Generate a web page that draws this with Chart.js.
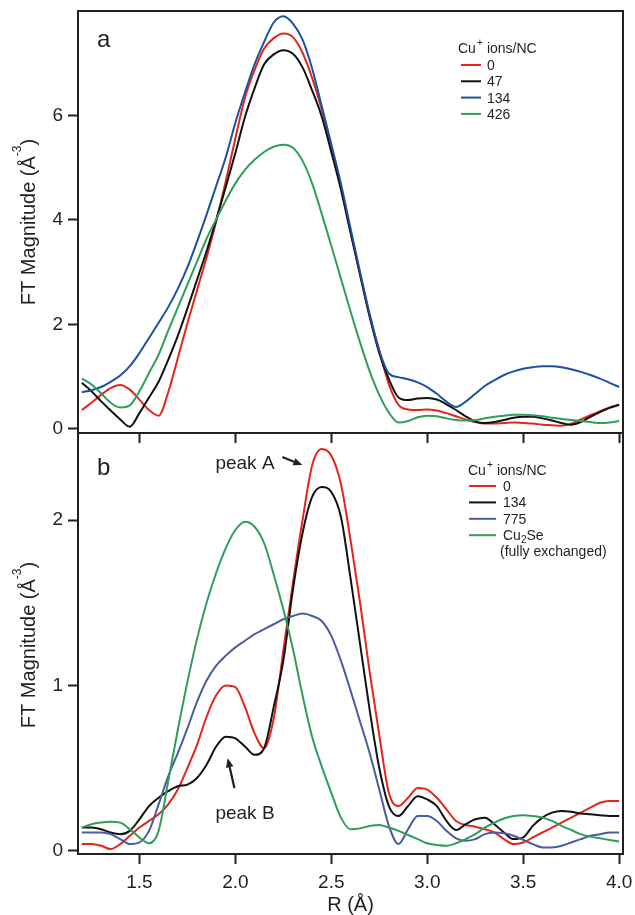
<!DOCTYPE html>
<html>
<head>
<meta charset="utf-8">
<script src="https://cdn.jsdelivr.net/npm/chart.js@4.4.1/dist/chart.umd.min.js"></script>
<style>
  html, body { margin: 0; padding: 0; background: #fff; overflow: hidden; }
  #wrap { position: relative; width: 635px; height: 915px; overflow: hidden; }
  #topChart { position: absolute; left: 0; top: 0; }
  #botChart { position: absolute; left: 0; top: 425px; }
</style>
</head>
<body>
<div id="wrap">
  <canvas id="topChart" width="635" height="450"></canvas>
  <canvas id="botChart" width="635" height="492"></canvas>
</div>
<script>
// R grid (Å)
const rAxis = [1.20, 1.25, 1.30, 1.35, 1.40, 1.45, 1.50, 1.55, 1.60, 1.65,
  1.70, 1.75, 1.80, 1.85, 1.90, 1.95, 2.00, 2.05, 2.10, 2.15,
  2.20, 2.25, 2.30, 2.35, 2.40, 2.45, 2.50, 2.55, 2.60, 2.65,
  2.70, 2.75, 2.80, 2.85, 2.90, 2.95, 3.00, 3.05, 3.10, 3.15,
  3.20, 3.25, 3.30, 3.35, 3.40, 3.45, 3.50, 3.55, 3.60, 3.65,
  3.70, 3.75, 3.80, 3.85, 3.90, 3.95, 4.00];

// panel a: Cu+ ions/NC = 0, 47, 134, 426
const topCu0 = [0.36, 0.50, 0.65, 0.78, 0.84, 0.75, 0.56, 0.36, 0.25, 0.70,
  1.35, 2.02, 2.65, 3.28, 3.97, 4.74, 5.56, 6.34, 6.87, 7.28,
  7.48, 7.57, 7.5, 7.2, 6.72, 6.12, 5.4, 4.63, 3.78, 2.95,
  2.15, 1.5, 0.85, 0.46, 0.37, 0.36, 0.37, 0.35, 0.30, 0.24,
  0.18, 0.13, 0.10, 0.10, 0.11, 0.12, 0.11, 0.10, 0.08, 0.07,
  0.06, 0.10, 0.18, 0.26, 0.34, 0.41, 0.46];
const topCu47 = [0.88, 0.72, 0.53, 0.35, 0.18, 0.04, 0.30, 0.60, 0.90, 1.32,
  1.78, 2.3, 2.85, 3.4, 4.0, 4.63, 5.28, 5.97, 6.52, 6.98,
  7.17, 7.25, 7.18, 6.92, 6.48, 5.98, 5.3, 4.58, 3.76, 2.95,
  2.15, 1.45, 0.95, 0.60, 0.55, 0.58, 0.59, 0.56, 0.47, 0.36,
  0.24, 0.14, 0.11, 0.13, 0.17, 0.21, 0.23, 0.23, 0.20, 0.16,
  0.11, 0.08, 0.13, 0.23, 0.32, 0.40, 0.46];
const topCu134 = [0.70, 0.74, 0.80, 0.90, 1.02, 1.2, 1.45, 1.74, 2.03, 2.33,
  2.68, 3.09, 3.58, 4.1, 4.65, 5.2, 5.86, 6.44, 6.98, 7.41,
  7.78, 7.9, 7.76, 7.45, 6.9, 6.18, 5.45, 4.7, 3.84, 3.0,
  2.2, 1.5, 1.06, 0.99, 0.95, 0.89, 0.80, 0.67, 0.52, 0.42,
  0.52, 0.67, 0.82, 0.93, 1.03, 1.1, 1.15, 1.18, 1.2, 1.2,
  1.18, 1.14, 1.09, 1.03, 0.96, 0.88, 0.80];
const topCu426 = [0.96, 0.85, 0.68, 0.5, 0.41, 0.45, 0.72, 1.07, 1.42, 1.88,
  2.32, 2.76, 3.2, 3.64, 4.01, 4.37, 4.7, 4.96, 5.15, 5.3,
  5.4, 5.44, 5.38, 5.13, 4.7, 4.12, 3.5, 2.88, 2.25, 1.65,
  1.1, 0.65, 0.31, 0.12, 0.15, 0.22, 0.25, 0.24, 0.2, 0.17,
  0.16, 0.17, 0.2, 0.23, 0.25, 0.27, 0.27, 0.26, 0.24, 0.21,
  0.19, 0.17, 0.15, 0.13, 0.11, 0.12, 0.15];

// panel b: Cu+ ions/NC = 0, 134, 775, Cu2Se
const botCu0 = [0.04, 0.04, 0.03, 0.01, 0.04, 0.09, 0.14, 0.18, 0.22, 0.28,
  0.37, 0.50, 0.64, 0.81, 0.94, 1.0, 0.99, 0.87, 0.71, 0.62,
  0.80, 1.21, 1.62, 2.0, 2.33, 2.43, 2.39, 2.22, 1.88, 1.5,
  1.08, 0.70, 0.35, 0.27, 0.32, 0.38, 0.37, 0.32, 0.25, 0.18,
  0.155, 0.145, 0.13, 0.11, 0.07, 0.04, 0.05, 0.08, 0.11, 0.14,
  0.17, 0.20, 0.23, 0.26, 0.29, 0.30, 0.30];
const botCu134 = [0.14, 0.14, 0.13, 0.11, 0.10, 0.12, 0.19, 0.27, 0.32, 0.36,
  0.39, 0.40, 0.44, 0.52, 0.63, 0.69, 0.68, 0.63, 0.58, 0.62,
  0.87, 1.15, 1.58, 1.92, 2.14, 2.20, 2.17, 2.02, 1.65, 1.25,
  0.85, 0.50, 0.27, 0.21, 0.27, 0.33, 0.31, 0.27, 0.18, 0.125,
  0.16, 0.19, 0.20, 0.16, 0.11, 0.07, 0.08, 0.15, 0.20, 0.23,
  0.24, 0.235, 0.225, 0.22, 0.215, 0.21, 0.21];
const botCu775 = [0.11, 0.11, 0.11, 0.10, 0.07, 0.04, 0.05, 0.12, 0.28, 0.45,
  0.59, 0.74, 0.90, 1.03, 1.12, 1.18, 1.23, 1.27, 1.31, 1.34,
  1.37, 1.40, 1.42, 1.435, 1.42, 1.39, 1.30, 1.15, 0.97, 0.78,
  0.59, 0.37, 0.15, 0.04, 0.13, 0.21, 0.21, 0.18, 0.12, 0.075,
  0.06, 0.07, 0.10, 0.11, 0.105, 0.09, 0.065, 0.04, 0.02, 0.02,
  0.03, 0.05, 0.07, 0.09, 0.10, 0.11, 0.11];
const botCu2Se = [0.14, 0.16, 0.17, 0.175, 0.17, 0.13, 0.08, 0.045, 0.12, 0.42,
  0.73, 1.02, 1.28, 1.5, 1.68, 1.83, 1.94, 1.99, 1.96, 1.86,
  1.67, 1.46, 1.22, 0.94, 0.69, 0.51, 0.35, 0.20, 0.13, 0.135,
  0.15, 0.155, 0.14, 0.12, 0.095, 0.07, 0.045, 0.035, 0.03, 0.045,
  0.07, 0.10, 0.14, 0.17, 0.195, 0.21, 0.215, 0.21, 0.20, 0.18,
  0.15, 0.125, 0.10, 0.085, 0.075, 0.065, 0.055];

const xTicks = [1.5, 2.0, 2.5, 3.0, 3.5, 4.0];
const topYTicks = [0, 2, 4, 6];
const botYTicks = [0, 1, 2];
const topLabels = ['0', '47', '134', '426'];
const botLabels = ['0', '134', '775', 'Cu2Se'];

// annotation anchors in data units (R, magnitude)
const peakAText = [1.896, 2.307];
const peakAArrow = [2.245, 2.382, 2.349, 2.333];
const peakBText = [1.896, 0.19];
const peakBArrow = [1.995, 0.379, 1.96, 0.559];

const FONT = '"Liberation Sans", Arial, Helvetica, sans-serif';
const INK = '#231f20';
const RED = '#e3261d', BLACK = '#111111', GREEN = '#2f9e5a';
const BLUE_A = '#1d4fa3', BLUE_B = '#4a5c9e';

function series(values, color) {
  return {
    data: values.map((v, i) => ({ x: rAxis[i], y: v })),
    borderColor: color,
    borderWidth: 2,
    pointRadius: 0,
    fill: false,
    cubicInterpolationMode: 'monotone'
  };
}

function xScale(showLabels, height) {
  return {
    type: 'linear', min: 1.18, max: 4.02,
    afterBuildTicks: s => { s.ticks = xTicks.map(v => ({ value: v })); },
    afterFit: s => { s.height = height; s.paddingLeft = 0; s.paddingRight = 0; },
    grid: { drawOnChartArea: false, drawTicks: true, tickLength: 10, tickWidth: 2, color: INK, tickColor: INK },
    border: { display: false },
    ticks: {
      display: showLabels, padding: 7, color: INK, autoSkip: false, maxRotation: 0,
      font: { family: FONT, size: 19 },
      callback: v => Number(v).toFixed(1)
    },
    title: {
      display: showLabels, text: 'R (Å)', color: INK,
      font: { family: FONT, size: 20 }, padding: { top: 0, bottom: 0 }
    }
  };
}

function yScale(min, max, ticks) {
  return {
    min: min, max: max,
    afterBuildTicks: s => { s.ticks = ticks.map(v => ({ value: v })); },
    afterFit: s => { s.width = 78; s.paddingTop = 0; s.paddingBottom = 0; },
    grid: { drawOnChartArea: false, drawTicks: true, tickLength: 10, tickWidth: 2, color: INK, tickColor: INK },
    border: { display: false },
    ticks: { padding: 5, color: INK, font: { family: FONT, size: 19 }, callback: v => String(v) }
  };
}

function drawYTitle(ctx, cx, cy) {
  ctx.save();
  ctx.translate(cx, cy);
  ctx.rotate(-Math.PI / 2);
  ctx.fillStyle = INK;
  ctx.textBaseline = 'alphabetic';
  ctx.textAlign = 'left';
  const big = '20px ' + FONT, small = '12px ' + FONT;
  ctx.font = big;
  const w1 = ctx.measureText('FT Magnitude (Å').width;
  const w3 = ctx.measureText(')').width;
  ctx.font = small;
  const w2 = ctx.measureText('-3').width;
  let x = -(w1 + w2 + w3) / 2;
  ctx.font = big; ctx.fillText('FT Magnitude (Å', x, 7);
  x += w1;
  ctx.font = small; ctx.fillText('-3', x, -7);
  x += w2;
  ctx.font = big; ctx.fillText(')', x, 7);
  ctx.restore();
}

function drawCuTitle(ctx, x, base) {
  ctx.font = '14px ' + FONT;
  ctx.fillText('Cu', x, base);
  const w = ctx.measureText('Cu').width;
  ctx.font = '10px ' + FONT;
  ctx.fillText('+', x + w + 1, base - 7);
  ctx.font = '14px ' + FONT;
  ctx.fillText('ions/NC', x + w + 11, base);
}

function drawLegend(ctx, spec) {
  ctx.save();
  ctx.fillStyle = INK;
  ctx.textAlign = 'left';
  ctx.textBaseline = 'alphabetic';
  drawCuTitle(ctx, spec.titleX, spec.titleBase);
  spec.labels.forEach((lab, i) => {
    const y = spec.firstY + i * spec.rowH;
    ctx.strokeStyle = spec.colors[i];
    ctx.lineWidth = 2;
    ctx.beginPath();
    ctx.moveTo(spec.lineX1, y);
    ctx.lineTo(spec.lineX2, y);
    ctx.stroke();
    ctx.fillStyle = INK;
    if (lab === 'Cu2Se') {
      ctx.font = '14px ' + FONT;
      ctx.fillText('Cu', spec.textX, y + 5);
      const w = ctx.measureText('Cu').width;
      ctx.font = '10px ' + FONT;
      ctx.fillText('2', spec.textX + w, y + 8);
      const w2 = ctx.measureText('2').width;
      ctx.font = '14px ' + FONT;
      ctx.fillText('Se', spec.textX + w + w2, y + 5);
    } else {
      ctx.font = '14px ' + FONT;
      ctx.fillText(lab, spec.textX, y + 5);
    }
  });
  ctx.restore();
}

function drawArrow(ctx, x1, y1, x2, y2) {
  const ang = Math.atan2(y2 - y1, x2 - x1);
  const head = 9, half = 3.8;
  const bx = x2 - head * Math.cos(ang), by = y2 - head * Math.sin(ang);
  ctx.save();
  ctx.strokeStyle = INK;
  ctx.fillStyle = INK;
  ctx.lineWidth = 2.2;
  ctx.beginPath();
  ctx.moveTo(x1, y1);
  ctx.lineTo(bx, by);
  ctx.stroke();
  ctx.beginPath();
  ctx.moveTo(x2, y2);
  ctx.lineTo(bx + half * Math.sin(ang), by - half * Math.cos(ang));
  ctx.lineTo(bx - half * Math.sin(ang), by + half * Math.cos(ang));
  ctx.closePath();
  ctx.fill();
  ctx.restore();
}

function framePlugin(extra) {
  return {
    id: 'frame',
    afterDraw(chart) {
      const { ctx, chartArea: a } = chart;
      ctx.save();
      ctx.strokeStyle = INK;
      ctx.lineWidth = 2;
      ctx.strokeRect(a.left, a.top, a.right - a.left, a.bottom - a.top);
      ctx.restore();
      extra(chart, ctx, a);
    }
  };
}

const commonOpts = {
  responsive: false,
  animation: false,
  devicePixelRatio: 1,
  plugins: { legend: { display: false }, tooltip: { enabled: false } },
  elements: { line: { borderJoinStyle: 'round' } }
};

new Chart(document.getElementById('topChart'), {
  type: 'line',
  data: {
    datasets: [
      series(topCu426, GREEN),
      series(topCu134, BLUE_A),
      series(topCu47, BLACK),
      series(topCu0, RED)
    ]
  },
  options: Object.assign({}, commonOpts, {
    layout: { padding: { top: 11, right: 12, left: 0, bottom: 0 } },
    scales: { x: xScale(false, 17), y: yScale(-0.08, 8.0, topYTicks) }
  }),
  plugins: [framePlugin((chart, ctx, a) => {
    ctx.save();
    ctx.fillStyle = INK;
    ctx.font = '24px ' + FONT;
    ctx.fillText('a', 97, 47);
    ctx.restore();
    drawYTitle(ctx, 28, 222);
    drawLegend(ctx, {
      titleX: 458, titleBase: 53, firstY: 65, rowH: 16.3,
      lineX1: 461, lineX2: 481, textX: 487,
      labels: topLabels, colors: [RED, BLACK, BLUE_A, GREEN]
    });
  })]
});

new Chart(document.getElementById('botChart'), {
  type: 'line',
  data: {
    datasets: [
      series(botCu2Se, GREEN),
      series(botCu775, BLUE_B),
      series(botCu134, BLACK),
      series(botCu0, RED)
    ]
  },
  options: Object.assign({}, commonOpts, {
    layout: { padding: { top: 8, right: 12, left: 0, bottom: 0 } },
    scales: { x: xScale(true, 63), y: yScale(-0.02, 2.527, botYTicks) }
  }),
  plugins: [framePlugin((chart, ctx, a) => {
    const xs = chart.scales.x, ys = chart.scales.y;
    ctx.save();
    ctx.fillStyle = INK;
    ctx.font = '24px ' + FONT;
    ctx.fillText('b', 97, 50);
    ctx.font = '19px ' + FONT;
    ctx.fillText('peak A', xs.getPixelForValue(peakAText[0]), ys.getPixelForValue(peakAText[1]));
    ctx.fillText('peak B', xs.getPixelForValue(peakBText[0]), ys.getPixelForValue(peakBText[1]));
    ctx.restore();
    drawArrow(ctx, xs.getPixelForValue(peakAArrow[0]), ys.getPixelForValue(peakAArrow[1]),
      xs.getPixelForValue(peakAArrow[2]), ys.getPixelForValue(peakAArrow[3]));
    drawArrow(ctx, xs.getPixelForValue(peakBArrow[0]), ys.getPixelForValue(peakBArrow[1]),
      xs.getPixelForValue(peakBArrow[2]), ys.getPixelForValue(peakBArrow[3]));
    drawYTitle(ctx, 28, 220);
    drawLegend(ctx, {
      titleX: 468, titleBase: 50, firstY: 61, rowH: 16.4,
      lineX1: 469, lineX2: 496, textX: 503,
      labels: botLabels, colors: [RED, BLACK, BLUE_B, GREEN]
    });
    ctx.save();
    ctx.fillStyle = INK;
    ctx.font = '14px ' + FONT;
    ctx.fillText('(fully exchanged)', 500, 131);
    ctx.restore();
  })]
});
</script>
</body>
</html>
